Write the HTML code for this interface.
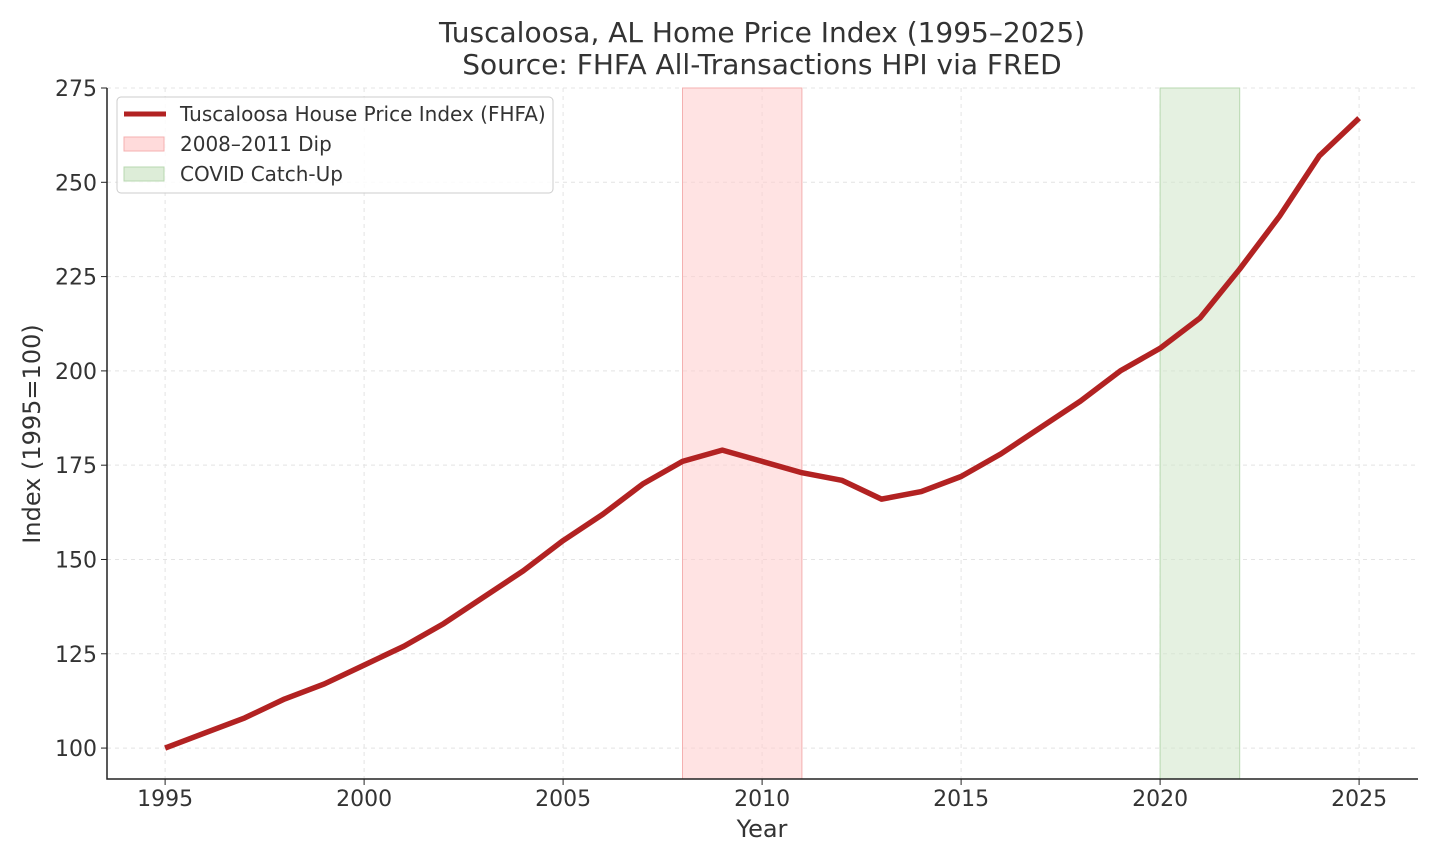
<!DOCTYPE html>
<html><head><meta charset="utf-8"><style>
body{margin:0;background:#fff;font-family:"DejaVu Sans","Liberation Sans",sans-serif;}
svg text{font-family:"DejaVu Sans","Liberation Sans",sans-serif;fill:#333;}
</style></head><body>
<svg id="chart" width="1440" height="864" xmlns="http://www.w3.org/2000/svg"></svg>
<script>
const years=[1995,1996,1997,1998,1999,2000,2001,2002,2003,2004,2005,2006,2007,2008,2009,2010,2011,2012,2013,2014,2015,2016,2017,2018,2019,2020,2021,2022,2023,2024,2025];
const hpi=[100,104,108,113,117,122,127,133,140,147,155,162,170,176,179,176,173,171,166,168,172,178,185,192,200,206,214,227,241,257,267];
const xTicks=[1995,2000,2005,2010,2015,2020,2025];
const yTicks=[100,125,150,175,200,225,250,275];
const dipBand=[2008,2011];
const covidBand=[2020,2022];
const L=107,R=1418,T=88,B=779;
const x0=1993.54,x1=2026.48,y0=91.8,y1=275;
const X=v=>L+(v-x0)/(x1-x0)*(R-L);
const Y=v=>B-(v-y0)/(y1-y0)*(B-T);
const svg=document.getElementById('chart');
const NS='http://www.w3.org/2000/svg';
function el(t,a,p){const e=document.createElementNS(NS,t);for(const k in a)e.setAttribute(k,a[k]);(p||svg).appendChild(e);return e;}
xTicks.forEach(v=>{const g=el('line',{x1:X(v),x2:X(v),y1:T,y2:B,stroke:'#e4e4e4','stroke-dasharray':'4,4'});

});
yTicks.forEach(v=>{const g=el('line',{x1:L,x2:R,y1:Y(v),y2:Y(v),stroke:'#e4e4e4','stroke-dasharray':'4,4'});

});
let b=el('rect',{x:X(dipBand[0]),y:T,width:X(dipBand[1])-X(dipBand[0]),height:B-T,fill:'#ffcccc','fill-opacity':0.55,stroke:'#f4b0b0'});


b=el('rect',{x:X(covidBand[0]),y:T,width:X(covidBand[1])-X(covidBand[0]),height:B-T,fill:'#cfe5c8','fill-opacity':0.55,stroke:'#b8d8b0'});


const line=el('polyline',{points:years.map((y,i)=>X(y)+','+Y(hpi[i])).join(' '),fill:'none',stroke:'#b22222','stroke-width':5.5,'stroke-linejoin':'round'});


let a=el('path',{d:`M${L},${T} L${L},${B} L${R},${B}`,fill:'none',stroke:'#222','stroke-width':1.5});


xTicks.forEach(v=>{el('line',{x1:X(v),x2:X(v),y1:B,y2:B+6,stroke:'#222'});
const t=el('text',{x:X(v),y:B+27,'text-anchor':'middle','font-size':22});t.textContent=v;

});
yTicks.forEach(v=>{el('line',{x1:L-6,x2:L,y1:Y(v),y2:Y(v),stroke:'#222'});
const t=el('text',{x:L-10,y:Y(v)+8,'text-anchor':'end','font-size':22});t.textContent=v;

});
</script>
<svg style="position:absolute;left:0;top:0" width="1440" height="864">
<text x="762" y="42" text-anchor="middle" font-size="28">Tuscaloosa, AL Home Price Index (1995–2025)</text>
<text x="762" y="74" text-anchor="middle" font-size="28">Source: FHFA All-Transactions HPI via FRED</text>
<text x="762" y="837" text-anchor="middle" font-size="24">Year</text>
<text transform="translate(40,434) rotate(-90)" text-anchor="middle" font-size="24">Index (1995=100)</text>
<g>
<rect x="117" y="97" width="436" height="96" rx="4" fill="#fff" fill-opacity="0.85" stroke="#ccc"/>
<line x1="124" y1="114" x2="166" y2="114" stroke="#b22222" stroke-width="5"/>
<text x="180" y="121" font-size="20">Tuscaloosa House Price Index (FHFA)</text>
<rect x="124" y="137" width="40" height="14" fill="#ffcccc" fill-opacity="0.7" stroke="#f4b0b0"/>
<text x="180" y="151" font-size="20">2008–2011 Dip</text>
<rect x="124" y="167" width="40" height="14" fill="#cfe5c8" fill-opacity="0.7" stroke="#b8d8b0"/>
<text x="180" y="181" font-size="20">COVID Catch-Up</text>
</g>
</svg>
</body></html>
